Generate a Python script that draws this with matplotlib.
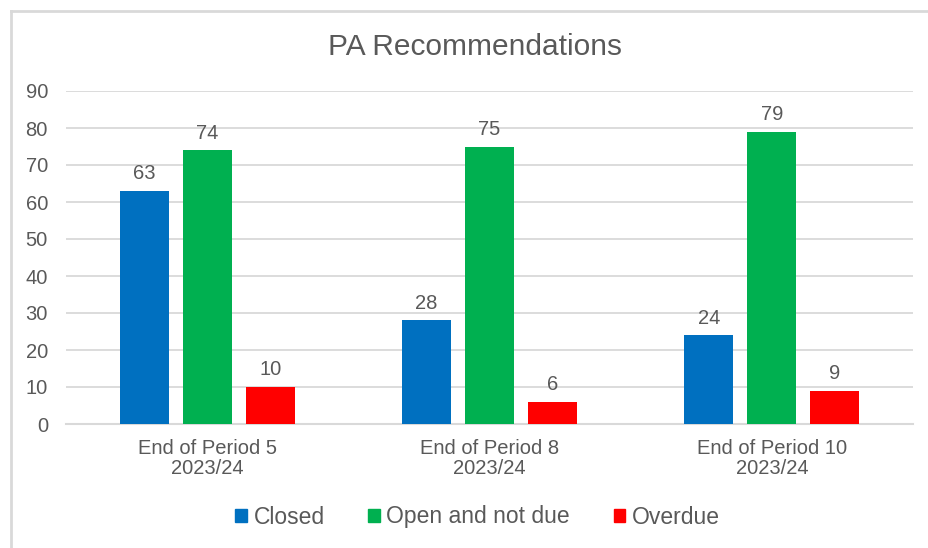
import matplotlib
matplotlib.use("Agg")
import matplotlib.pyplot as plt
import numpy as np
from matplotlib.lines import Line2D
from matplotlib.patches import Patch

categories = ["End of Period 5\n2023/24", "End of Period 8\n2023/24", "End of Period 10\n2023/24"]
series_names = ["Closed", "Open and not due", "Overdue"]
closed = [63, 28, 24]
open_not_due = [74, 75, 79]
overdue = [10, 6, 9]
colors = ["#0070C0", "#00B050", "#FF0000"]
yticks = [0, 10, 20, 30, 40, 50, 60, 70, 80, 90]

plt.rcParams['font.family'] = ['Liberation Sans', 'DejaVu Sans']
txt = "#595959"

fig = plt.figure(figsize=(9.29, 5.48), dpi=100)
ax = fig.add_axes([66/929, 1-424/548, (913-66)/929, (424-91)/548])

x = np.arange(len(categories))
w = 0.1736
step = 0.223
for i, (vals, c, name) in enumerate(zip([closed, open_not_due, overdue], colors, series_names)):
    pos = x + (i-1)*step
    ax.bar(pos, vals, width=w, color=c, label=name, zorder=3)
    for p, v in zip(pos, vals):
        ax.annotate(str(v), (p, v), xytext=(0, 5.5), textcoords="offset points",
                    ha="center", va="bottom", fontsize=14.5, color=txt)

ax.set_xlim(-0.5, 2.5)
ax.set_ylim(0, 90)
ax.set_yticks(yticks)
ax.set_yticklabels([str(t) for t in yticks])
ax.set_xticks(x)
ax.set_xticklabels(categories)
ax.grid(axis="y", color="#D9D9D9", linewidth=1.3, zorder=0)
for s in ["top", "right", "left"]:
    ax.spines[s].set_visible(False)
ax.spines["bottom"].set_color("#D9D9D9")
ax.spines["bottom"].set_linewidth(1.5)
ax.tick_params(axis="both", length=0, labelsize=14.5, labelcolor=txt)
ax.tick_params(axis="y", pad=13)
ax.tick_params(axis="x", pad=11)
for lbl in ax.get_xticklabels():
    lbl.set_linespacing(1.05)

fig.text(0.511, 1-47/548, "PA Recommendations", ha="center", va="center", fontsize=21.5, color=txt)

handles = [Patch(color=c) for c in colors]
fig.legend(handles, series_names, loc="center", bbox_to_anchor=(0.514, 1-517/548), ncol=3,
           frameon=False, fontsize=16.5, labelcolor=txt, handlelength=0.5, handleheight=0.5,
           handletextpad=0.3, columnspacing=1.9)

fig.add_artist(Line2D([11/929, 11/929], [0, 1-11/548], color="#D9D9D9", linewidth=2, transform=fig.transFigure))
fig.add_artist(Line2D([11/929, 1], [1-11/548, 1-11/548], color="#D9D9D9", linewidth=2, transform=fig.transFigure))

fig.savefig("out.png", dpi=100, facecolor="white")
